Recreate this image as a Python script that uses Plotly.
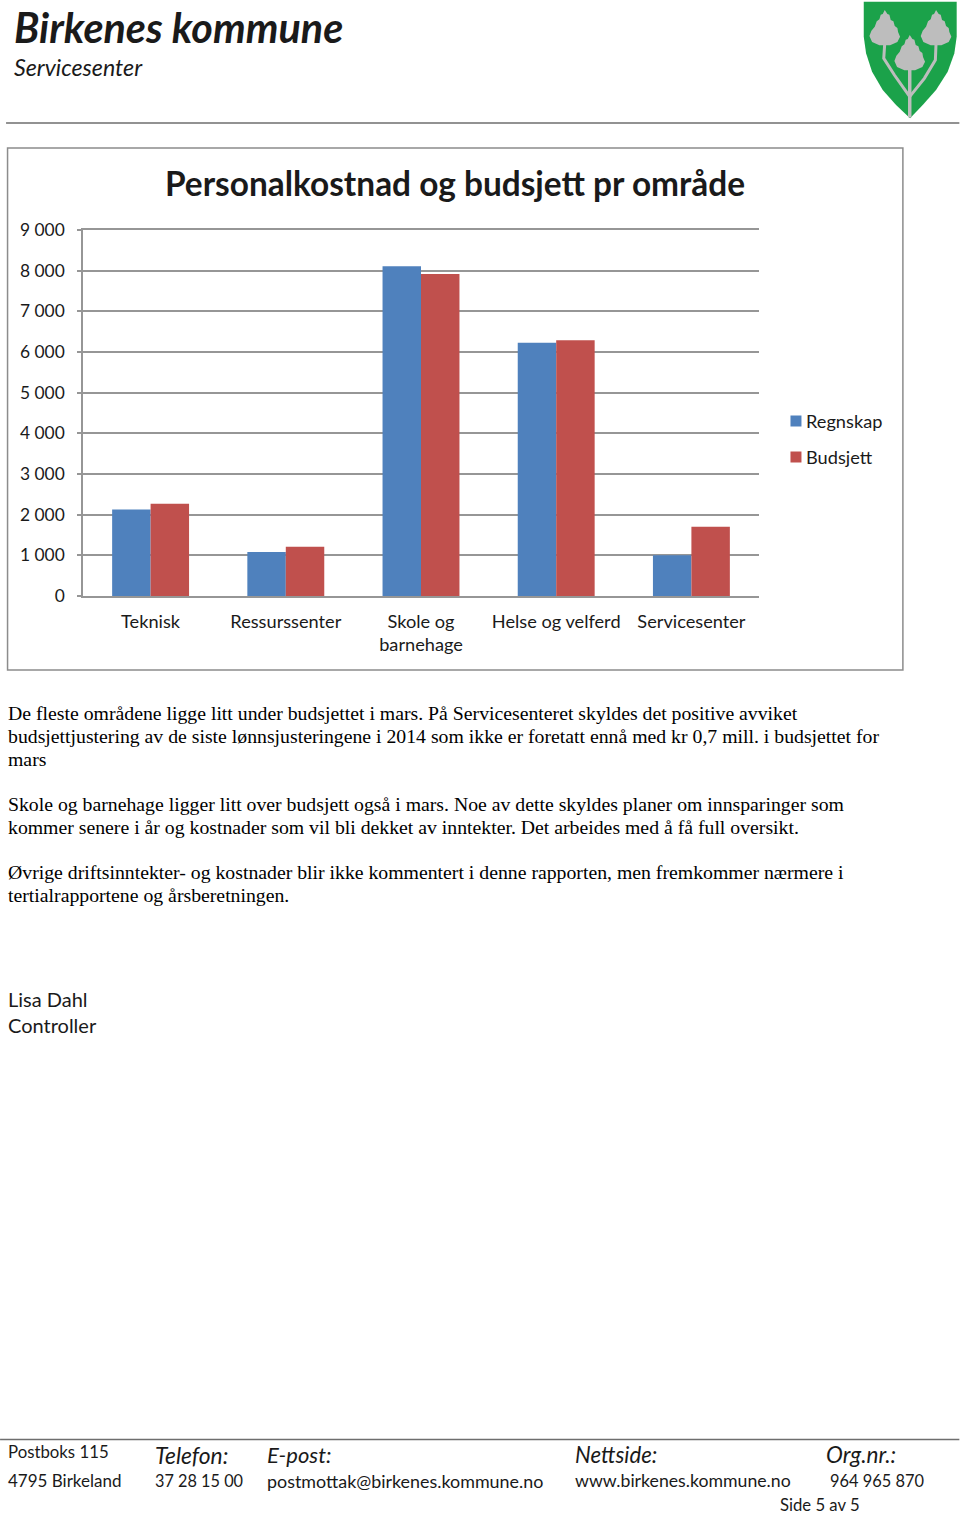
import plotly.graph_objects as go

W, H = 960, 1514
L, R, T, B = 83, 759.5, 230, 596  # plot area, pixels

categories = ["Teknisk", "Ressurssenter", "Skole og<br>barnehage", "Helse og velferd", "Servicesenter"]
regnskap = [2130, 1080, 8110, 6230, 1000]
budsjett = [2270, 1210, 7920, 6290, 1700]
series_names = ["Regnskap", "Budsjett"]
series_colors = ["#4F81BD", "#C0504D"]
chart_title = "Personalkostnad og budsjett pr område"

SANS = "Lato, 'Open Sans', sans-serif"
SERIF = "'Liberation Serif', 'Times New Roman', serif"
INK = "#1a1a1a"
GRID = "#969696"

# (text, x, y, size, font, bold, italic)
page_texts = [
    ("Birkenes kommune", 12.5, 26.5, 41.3, SANS, True, True),
    ("Servicesenter", 13, 67.5, 23.2, SANS, False, True),
    ("De fleste områdene ligge litt under budsjettet i mars. På Servicesenteret skyldes det positive avviket", 7, 713, 19.75, SERIF, False, False),
    ("budsjettjustering av de siste lønnsjusteringene i 2014 som ikke er foretatt ennå med kr 0,7 mill. i budsjettet for", 7, 736, 19.75, SERIF, False, False),
    ("mars", 7, 759, 19.75, SERIF, False, False),
    ("Skole og barnehage ligger litt over budsjett også i mars. Noe av dette skyldes planer om innsparinger som", 7, 804, 19.75, SERIF, False, False),
    ("kommer senere i år og kostnader som vil bli dekket av inntekter. Det arbeides med å få full oversikt.", 7, 827, 19.75, SERIF, False, False),
    ("Øvrige driftsinntekter- og kostnader blir ikke kommentert i denne rapporten, men fremkommer nærmere i", 7, 872, 19.75, SERIF, False, False),
    ("tertialrapportene og årsberetningen.", 7, 895, 19.75, SERIF, False, False),
    ("Lisa Dahl", 7, 998.5, 20, SANS, False, False),
    ("Controller", 7, 1025, 20, SANS, False, False),
    ("Postboks 115", 7, 1451.5, 16.8, SANS, False, False),
    ("4795 Birkeland", 7, 1480.5, 17, SANS, False, False),
    ("Telefon:", 154, 1454.5, 22.8, SANS, False, True),
    ("37 28 15 00", 154, 1480.5, 16.3, SANS, False, False),
    ("E-post:", 266, 1454.5, 22, SANS, False, True),
    ("postmottak@birkenes.kommune.no", 266, 1480.5, 17.9, SANS, False, False),
    ("Nettside:", 574, 1454.5, 22.2, SANS, False, True),
    ("www.birkenes.kommune.no", 574, 1480.5, 17.7, SANS, False, False),
    ("Org.nr.:", 826, 1454.5, 22.6, SANS, False, True),
    ("964 965 870", 830, 1480.5, 16.4, SANS, False, False),
    ("Side 5 av 5", 780, 1505, 16.7, SANS, False, False),
]
legend_y = [421, 457]


def fx(x):
    return (x - L) / (R - L)


def fy(y):
    return (B - y) / (B - T)


def path(points, close=True):
    d = "M" + " L".join(f"{fx(x):.5f},{fy(y):.5f}" for x, y in points)
    return d + (" Z" if close else "")


def page_line(x0, y0, x1, y1, color, width):
    return dict(type="line", xref="paper", yref="paper", x0=fx(x0), y0=fy(y0), x1=fx(x1), y1=fy(y1),
                line=dict(color=color, width=width), layer="above")


def page_poly(points, fill):
    return dict(type="path", xref="paper", yref="paper", path=path(points), fillcolor=fill,
                line=dict(width=0), layer="above")


def page_stroke(points, color, width):
    return dict(type="path", xref="paper", yref="paper", path=path(points, close=False),
                line=dict(color=color, width=width), layer="above")


# Logo outline, in crop coordinates (crop origin 780,0, scale 3)
def crop(points):
    return [(780 + x / 3, y / 3) for x, y in points]


shield = crop([(253, 5), (532, 5), (532, 110), (525, 160), (505, 215), (470, 270), (430, 315), (392, 355),
               (350, 315), (310, 270), (278, 215), (260, 160), (253, 110)])
leaf = [(0, 0), (8, 12), (14, 14), (18, 30), (26, 34), (30, 48), (38, 54), (40, 66), (46, 80), (38, 96), (16, 106),
        (-16, 106), (-38, 96), (-46, 78), (-40, 62), (-30, 50), (-24, 34), (-16, 28), (-12, 14), (-6, 12)]


def tree(cx, top):
    return crop([(cx + x, top + y) for x, y in leaf])


GREY = "#BDBDBD"
shapes = [
    dict(type="rect", xref="paper", yref="paper", x0=fx(7.5), y0=fy(148), x1=fx(903.5), y1=fy(670),
         line=dict(color="#8c8c8c", width=1.5), layer="below"),
    page_line(6, 123, 960, 123, "#6e6e6e", 1.5),
    page_line(0, 1439.5, 960, 1439.5, "#6e6e6e", 1.5),
    page_poly(shield, "#1BA24A"),
    page_poly(tree(316, 30), GREY),
    page_poly(tree(470, 30), GREY),
    page_poly(tree(391, 105), GREY),
    page_stroke(crop([(391, 200), (391, 352)]), GREY, 3.5),
    page_stroke(crop([(316, 130), (313, 175), (345, 225), (391, 290)]), GREY, 3),
    page_stroke(crop([(470, 130), (468, 180), (435, 235), (391, 290)]), GREY, 3),
]

annotations = [
    dict(text=t, xref="paper", yref="paper", x=fx(x), y=fy(y), xanchor="left", yanchor="middle", showarrow=False,
         align="left", borderpad=0,
         font=dict(family=f, size=s, color="#000000" if f == SERIF else INK,
                   weight="bold" if b else "normal", style="italic" if i else "normal"))
    for t, x, y, s, f, b, i in page_texts
]

for name, color, y in zip(series_names, series_colors, legend_y):
    shapes.append(dict(type="rect", xref="paper", yref="paper", x0=fx(791), x1=fx(802), y0=fy(y - 5.5),
                       y1=fy(y + 5.5), fillcolor=color, line=dict(width=0), layer="above"))
    annotations.append(dict(text=name, xref="paper", yref="paper", x=fx(805.5), y=fy(y - 0.5), xanchor="left",
                            yanchor="middle", showarrow=False, borderpad=0,
                            font=dict(family=SANS, size=18.2, color=INK)))

fig = go.Figure()
for name, color, values in zip(series_names, series_colors, [regnskap, budsjett]):
    fig.add_trace(go.Bar(name=name, x=categories, y=values, marker=dict(color=color, line=dict(width=0))))

fig.update_layout(
    width=W, height=H, autosize=False,
    margin=dict(l=L, r=W - R, t=T, b=H - B, pad=0),
    paper_bgcolor="#ffffff", plot_bgcolor="#ffffff",
    barmode="group", bargap=0.431, bargroupgap=0,
    separators=", ",
    font=dict(family=SANS, size=17.5, color=INK),
    title=dict(text=chart_title, xref="container", yref="container", x=455 / W, y=1 - 184.5 / H,
               xanchor="center", yanchor="middle",
               font=dict(family=SANS, size=33.4, weight="bold", color=INK)),
    showlegend=False,
    shapes=shapes, annotations=annotations,
)
fig.update_xaxes(type="category", showgrid=False, showline=True, mirror=True, linecolor=GRID, linewidth=1.5, ticks="",
                 ticklabelstandoff=8, tickfont=dict(family=SANS, size=18.2, color=INK), automargin=False,
                 tickangle=0, zeroline=False)
fig.update_yaxes(range=[0, 9000], dtick=1000, tickformat=",d", showgrid=True, gridcolor=GRID, gridwidth=1.5,
                 showline=True, linecolor=GRID, linewidth=1.5, ticks="outside", ticklen=4, tickcolor=GRID,
                 tickwidth=1.5, ticklabelstandoff=9, tickfont=dict(family=SANS, size=17.4, color=INK),
                 zeroline=False, automargin=False)

fig.write_html("out.html", config={"displayModeBar": False}, post_script="document.body.style.margin='0';")
